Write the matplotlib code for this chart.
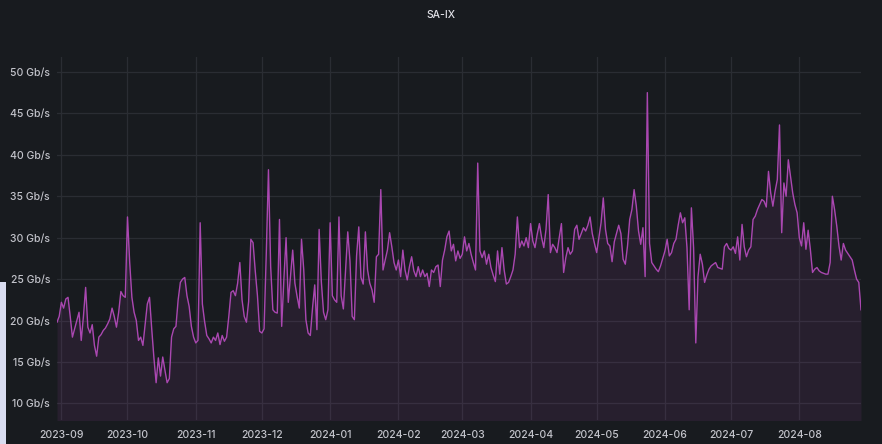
import matplotlib
matplotlib.use("Agg")
import matplotlib.pyplot as plt
import matplotlib.dates as mdates
from matplotlib.ticker import FuncFormatter
from matplotlib.patches import Rectangle
import numpy as np
import pandas as pd

title = "SA-IX"
start_date = "2023-08-30"

# daily throughput (Gb/s)
vals_sep_oct = [19.8, 20.5, 22.2, 21.5, 22.6, 22.8, 20.5, 18.0, 19.0, 20.0, 21.0, 17.6, 20.5, 24.0,
                19.2, 18.5, 19.5, 17.0, 15.7, 18.0, 18.3, 18.8, 19.1, 19.6, 20.2, 21.5, 20.5, 19.2,
                21.0, 23.5, 23.0, 22.8, 32.5, 27.0, 22.8, 21.0, 20.0, 17.6, 18.0, 17.0, 19.5, 22.0,
                22.8, 19.0, 15.5, 12.5, 15.5, 13.3, 15.6, 14.0, 12.5, 13.0, 18.0, 19.0, 19.3, 22.5,
                24.6, 25.0, 25.2, 23.0, 21.7, 19.3, 18.0]
vals_nov_dec = [17.3, 17.6, 31.8, 22.0, 19.9, 18.2, 17.8, 17.3, 18.0, 17.6, 18.5, 17.1, 18.2, 17.5,
                18.0, 20.5, 23.4, 23.6, 23.0, 24.5, 27.0, 22.5, 20.5, 19.8, 22.3, 29.8, 29.4, 26.0,
                23.0, 18.7, 18.5, 19.0, 28.0, 38.2, 26.5, 21.3, 21.0, 20.9, 32.2, 19.3, 25.0, 30.0,
                22.2, 25.4, 28.5, 24.5, 22.9, 21.5, 29.8, 26.2, 20.1, 18.5, 18.2, 21.5, 24.3, 18.9,
                31.0, 24.7, 21.0, 20.1, 21.3]
vals_jan_feb = [31.8, 23.0, 22.5, 22.2, 32.5, 23.0, 21.4, 26.0, 30.7, 27.2, 20.5, 20.1, 27.8, 31.3,
                25.2, 24.4, 30.7, 26.1, 24.5, 23.7, 22.2, 27.7, 28.0, 35.8, 26.1, 27.3, 28.5, 30.6,
                28.9, 27.0, 26.1, 27.3, 25.3, 28.5, 26.1, 24.9, 26.5, 27.7, 26.0, 25.3, 26.5, 25.3,
                26.1, 25.3, 25.7, 24.1, 26.1, 25.8, 26.5, 26.7, 24.1, 27.3, 28.5, 30.1, 30.8, 28.4,
                29.2, 27.2, 28.4, 27.5]
vals_mar_apr = [28.0, 30.1, 28.4, 29.3, 28.0, 27.0, 26.1, 39.0, 28.4, 27.6, 28.4, 26.8, 28.0, 26.4,
                25.5, 24.7, 28.4, 25.6, 28.8, 26.1, 24.4, 24.6, 25.3, 26.1, 28.0, 32.5, 28.8, 29.6,
                29.0, 30.0, 28.8, 31.7, 29.6, 28.8, 30.4, 31.7, 30.0, 28.8, 31.0, 35.2, 28.2, 29.2,
                28.8, 28.2, 30.0, 31.7, 25.8, 27.6, 28.8, 28.0, 28.4, 31.0, 31.5, 29.8, 30.5, 31.2,
                30.8, 31.5, 32.5, 30.5, 29.3]
vals_may_jun = [28.2, 30.0, 31.8, 34.8, 31.0, 29.3, 29.0, 27.1, 29.5, 30.5, 31.5, 30.5, 27.4, 26.8,
                29.0, 32.2, 33.4, 35.8, 33.8, 30.8, 29.2, 31.2, 25.3, 47.5, 29.3, 27.0, 26.6, 26.2,
                25.9, 26.6, 27.5, 28.4, 29.8, 27.8, 28.2, 29.3, 29.8, 31.5, 33.0, 31.8, 32.4, 28.8,
                21.3, 33.6, 28.8, 17.3, 25.3, 28.0, 26.8, 24.6, 25.5, 26.2, 26.6, 26.8, 27.0, 26.4,
                26.3, 26.2, 28.9, 29.3, 28.7]
vals_jul_aug = [28.5, 28.9, 28.1, 30.1, 27.3, 31.6, 28.9, 27.7, 28.5, 28.9, 32.2, 32.6, 33.4, 34.0,
                34.6, 34.4, 33.7, 38.0, 35.4, 33.8, 35.6, 37.0, 43.6, 30.6, 36.6, 35.0, 39.4, 37.4,
                35.4, 34.0, 33.0, 30.0, 29.0, 31.8, 28.6, 30.9, 28.6, 25.8, 26.2, 26.4, 26.0, 25.8,
                25.7, 25.6, 25.6, 27.0, 35.0, 33.4, 31.4, 29.0, 27.3, 29.3, 28.5, 28.1, 27.7, 27.3,
                26.1, 25.0, 24.6, 21.3]

values = np.array(vals_sep_oct + vals_nov_dec + vals_jan_feb + vals_mar_apr + vals_may_jun + vals_jul_aug)
dates = pd.date_range(start_date, periods=len(values), freq="D")

y_ticks = [10, 15, 20, 25, 30, 35, 40, 45, 50]

BG = "#181b1f"
LINE = "#b24ab9"
GRID = "#2a2d33"
TXT = "#c3c4cb"

fig = plt.figure(figsize=(8.82, 4.44), dpi=100, facecolor=BG)
ax = fig.add_axes([57 / 882, 24 / 444, (861 - 57) / 882, (420 - 57) / 444])
ax.set_facecolor(BG)

ax.fill_between(dates, values, 0, color=LINE, alpha=0.10, linewidth=0, zorder=2)
ax.plot(dates, values, color=LINE, linewidth=1.0, alpha=0.95, zorder=3)

ax.set_xlim(dates[0], dates[-1])
ax.set_ylim(8.0, 51.8)
ax.set_yticks(y_ticks)
ax.yaxis.set_major_formatter(FuncFormatter(lambda v, p: f"{v:.0f} Gb/s"))
ax.xaxis.set_major_locator(mdates.MonthLocator())
ax.xaxis.set_major_formatter(mdates.DateFormatter("%Y-%m"))

ax.grid(True, color=GRID, linewidth=0.9, zorder=1)
ax.set_axisbelow(True)
for s in ax.spines.values():
    s.set_visible(False)
ax.tick_params(axis="both", length=0, colors=TXT, labelsize=7.5)
ax.tick_params(axis="x", pad=7)
ax.tick_params(axis="y", pad=5)
for lab in ax.get_xticklabels() + ax.get_yticklabels():
    lab.set_fontfamily("Inter")
    lab.set_fontweight("medium")

fig.text(0.5, 1 - 15 / 444, title, ha="center", va="center", color="#e0e0e6",
         fontsize=7.5, fontweight="medium", family="Inter")

# light strip at the far left edge of the screenshot
fig.patches.append(Rectangle((0, 0), 6 / 882, 162 / 444, transform=fig.transFigure,
                             facecolor="#d9ddf0", edgecolor="none", zorder=0))

fig.savefig("out.png", dpi=100, facecolor=BG)
